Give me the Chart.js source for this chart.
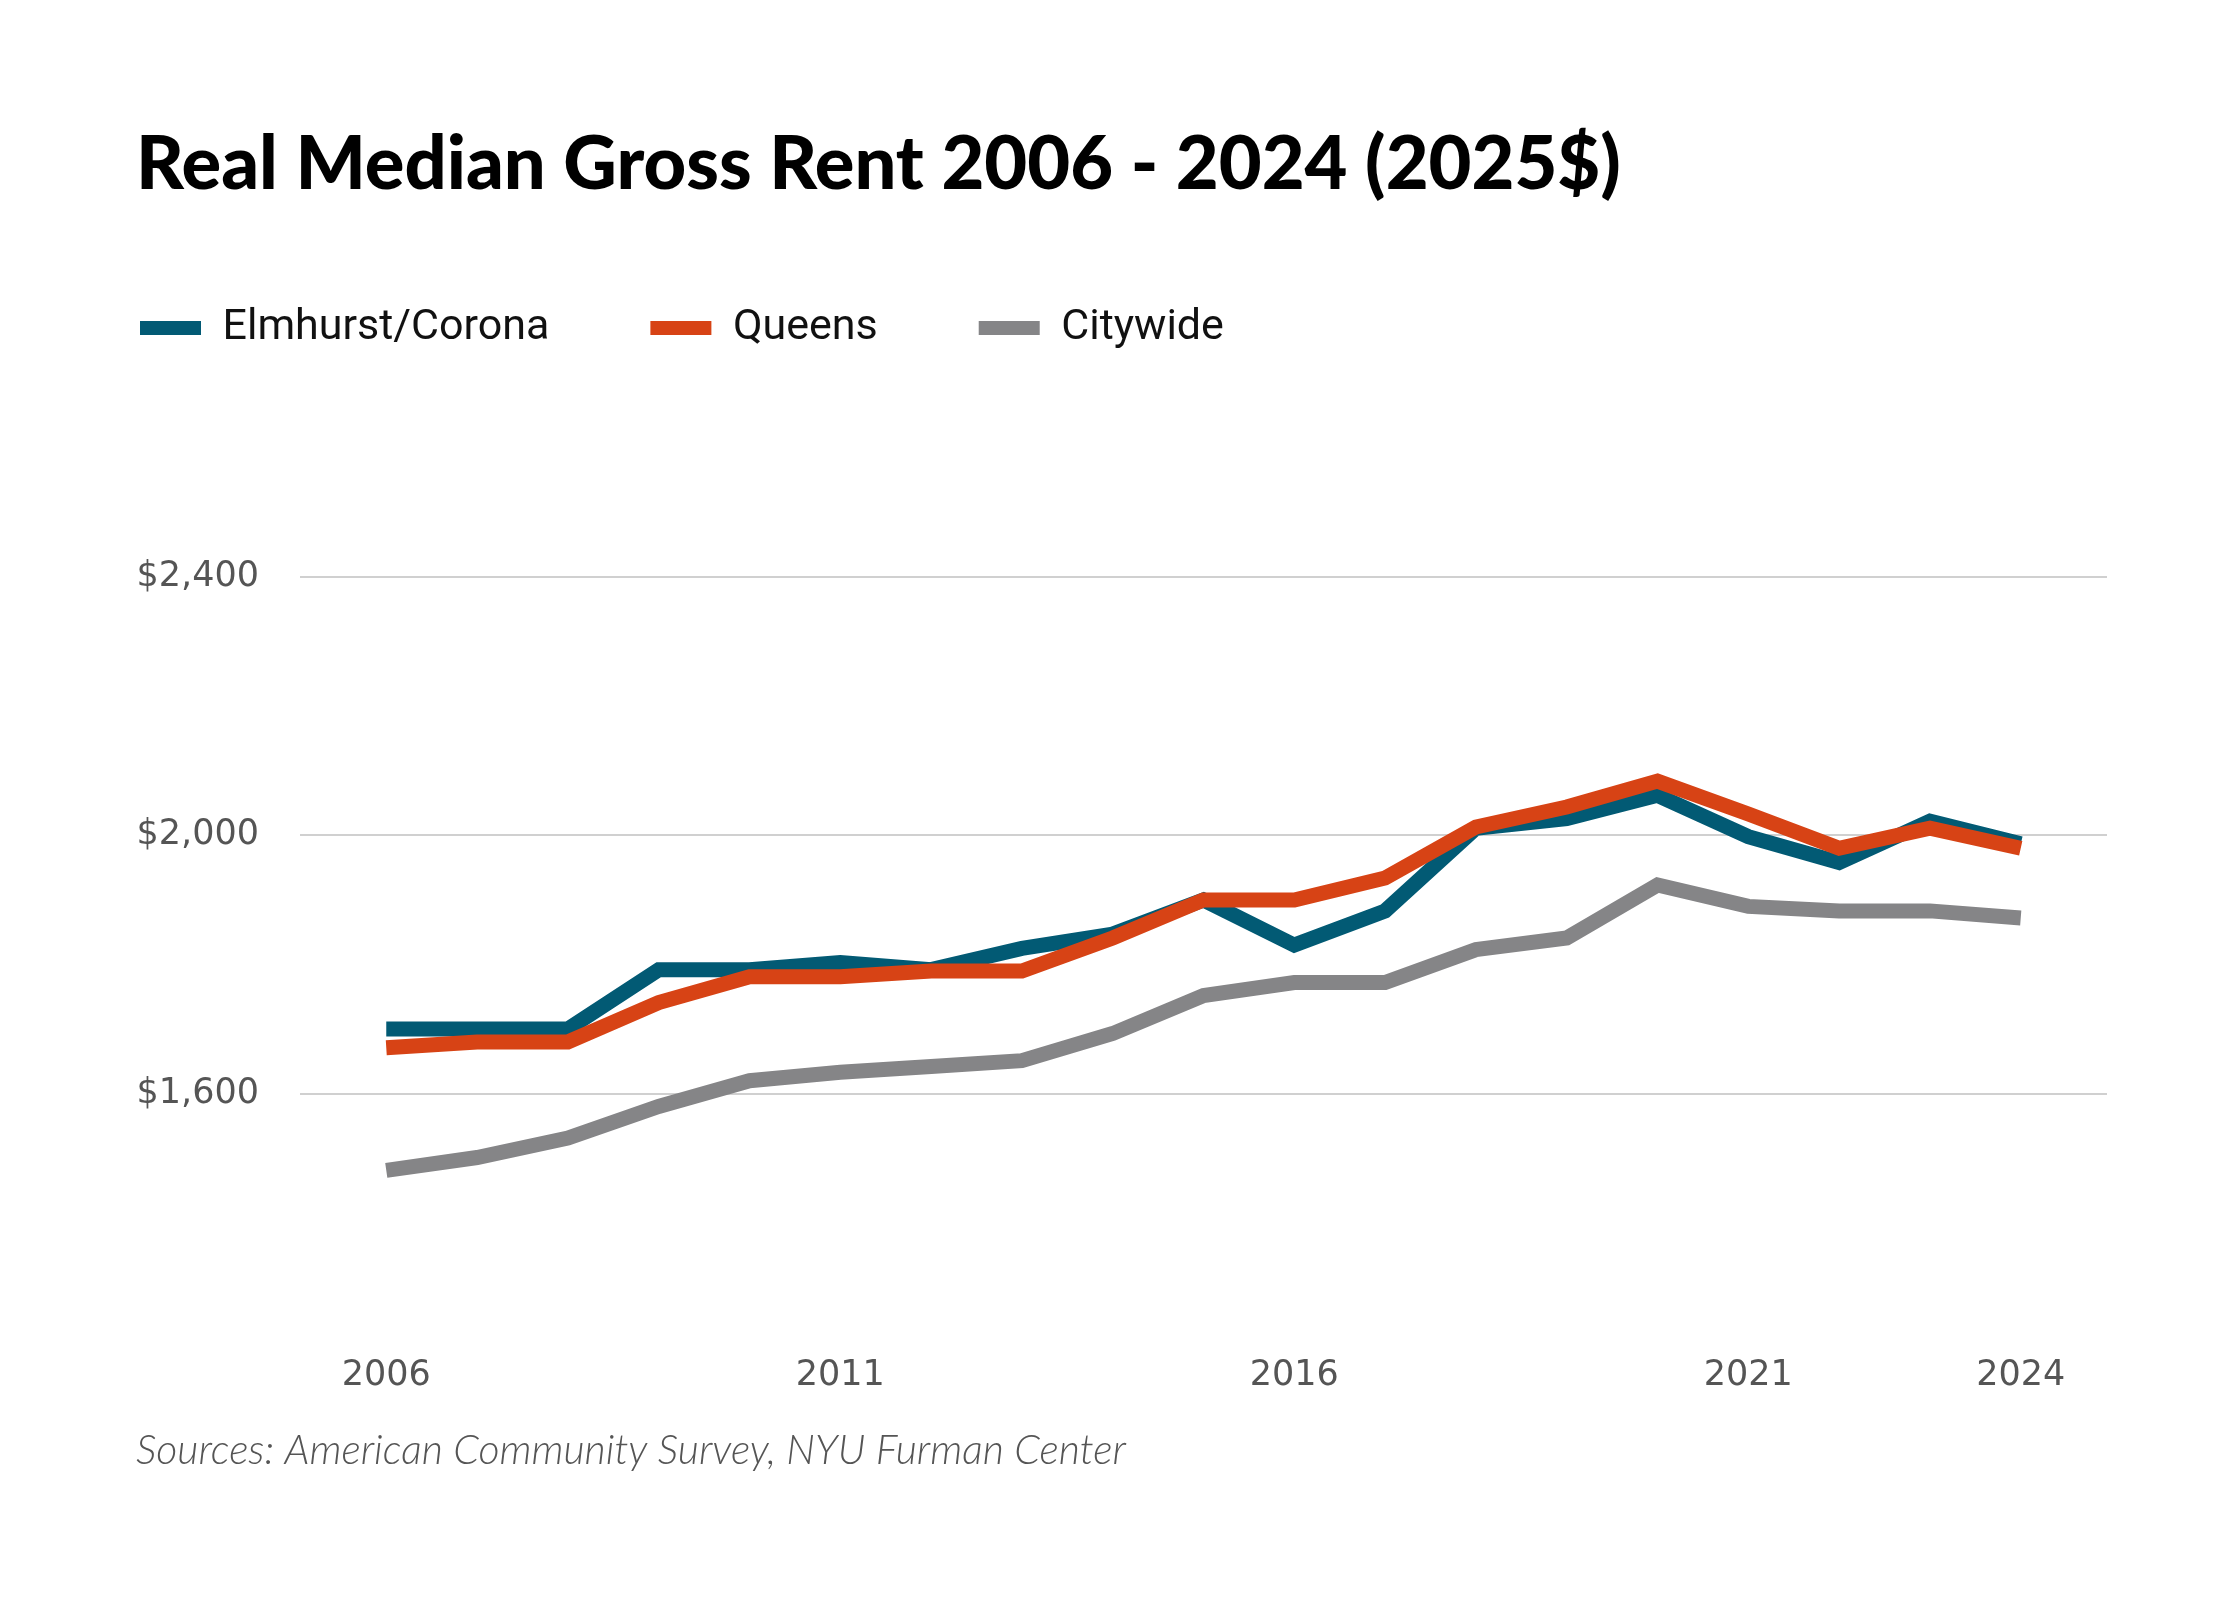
<!DOCTYPE html>
<html>
<head>
<meta charset="utf-8">
<style>
  html, body { margin: 0; padding: 0; background: #fff; }
  #wrap { width: 2240px; height: 1600px; }
</style>
<script src="https://cdn.jsdelivr.net/npm/chart.js@4.4.1/dist/chart.umd.min.js"></script>
</head>
<body>
<div id="wrap"><canvas id="rentChart" width="2240" height="1600"></canvas></div>
<script>
// values (2025 dollars)
const years = [2006, 2007, 2008, 2009, 2010, 2011, 2012, 2013, 2014, 2015,
               2016, 2017, 2018, 2019, 2020, 2021, 2022, 2023, 2024];
const elmhurstCorona = [1700, 1700, 1700, 1792, 1792, 1803, 1792, 1825, 1847, 1900,
                        1830, 1883, 2011, 2026, 2062, 1998, 1958, 2022, 1987];
const queens = [1671, 1680, 1680, 1741, 1781, 1781, 1790, 1790, 1841, 1900,
                1900, 1934, 2013, 2044, 2084, 2033, 1980, 2011, 1980];
const citywide = [1481, 1501, 1531, 1580, 1620, 1633, 1642, 1651, 1693, 1752,
                  1772, 1772, 1823, 1841, 1923, 1890, 1883, 1883, 1872];
const xTickYears = [2006, 2011, 2016, 2021, 2024];
const yTickValues = [1600, 2000, 2400];

const LEFT = 136;        // left margin of title, legend and source line
const LEGEND_GAP = 101;  // space between legend items

function toPoints(values) {
    return values.map((v, i) => ({ x: years[i], y: v }));
}

// legend padding is also used as its left inset, pull it back to the margin
const legendShift = {
    id: 'legendShift',
    afterLayout(chart) {
        chart.legend.left -= LEGEND_GAP - 4;
        chart.legend.right -= LEGEND_GAP - 4;
    }
};

const ctx = document.getElementById('rentChart').getContext('2d');
window.myChart = new Chart(ctx, {
    type: 'line',
    data: {
        datasets: [
            {
                label: 'Elmhurst/Corona',
                data: toPoints(elmhurstCorona),
                borderColor: '#025a74',
                backgroundColor: '#025a74',
                order: 1
            },
            {
                label: 'Queens',
                data: toPoints(queens),
                borderColor: '#d74315',
                backgroundColor: '#d74315',
                order: 0
            },
            {
                label: 'Citywide',
                data: toPoints(citywide),
                borderColor: '#858587',
                backgroundColor: '#858587',
                order: 2
            }
        ]
    },
    options: {
        responsive: false,
        animation: false,
        devicePixelRatio: 1,
        elements: {
            line: { borderWidth: 15, tension: 0, borderJoinStyle: 'miter', borderCapStyle: 'butt' },
            point: { radius: 0 }
        },
        layout: {
            padding: { top: 0, left: LEFT, right: 133, bottom: 0 }
        },
        plugins: {
            title: {
                display: true,
                text: 'Real Median Gross Rent 2006 - 2024 (2025$)',
                align: 'start',
                color: '#000',
                font: { family: 'Lato', size: 74, weight: '900', lineHeight: 0.9 },
                padding: { top: 132, bottom: 7 }
            },
            legend: {
                display: true,
                align: 'start',
                labels: {
                    boxWidth: 61,
                    boxHeight: 14,
                    padding: LEGEND_GAP,
                    color: '#111',
                    font: { family: 'Roboto', size: 43 },
                    sort: (a, b) => a.datasetIndex - b.datasetIndex,
                    generateLabels: chart => Chart.defaults.plugins.legend.labels.generateLabels(chart)
                        .map(item => Object.assign(item, { lineWidth: 0 }))
                }
            },
            subtitle: {
                display: true,
                position: 'bottom',
                align: 'start',
                text: 'Sources: American Community Survey, NYU Furman Center',
                color: '#555',
                font: { family: 'Lato', size: 41, style: 'italic', weight: '300' },
                padding: { top: 26, bottom: 125 }
            },
            tooltip: { enabled: false }
        },
        scales: {
            x: {
                type: 'linear',
                min: 2005.05,
                max: 2024.95,
                afterBuildTicks: scale => { scale.ticks = xTickYears.map(v => ({ value: v })); },
                grid: { display: false, drawTicks: false },
                border: { display: false },
                ticks: {
                    padding: 3,
                    color: '#555',
                    font: { family: 'DejaVu Sans', size: 35 },
                    callback: v => String(v)
                }
            },
            y: {
                type: 'linear',
                min: 1200,
                max: 2737,
                afterBuildTicks: scale => { scale.ticks = yTickValues.map(v => ({ value: v })); },
                afterFit: scale => { scale.width = 300 - LEFT; },
                grid: { color: '#d0d0d0', lineWidth: 2, drawTicks: false },
                border: { display: false },
                ticks: {
                    padding: 41,
                    color: '#555',
                    font: { family: 'DejaVu Sans', size: 35 },
                    callback: v => '$' + v.toLocaleString('en-US')
                }
            }
        }
    },
    plugins: [legendShift]
});
</script>
</body>
</html>
